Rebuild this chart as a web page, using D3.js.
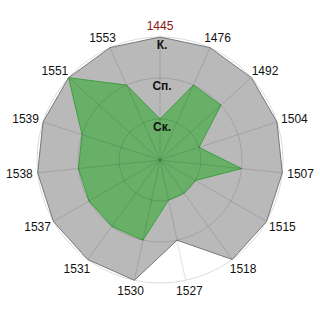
<!DOCTYPE html>
<html>
<head>
<meta charset="utf-8">
<script src="https://cdn.jsdelivr.net/npm/d3@7"></script>
<style>
html,body{margin:0;padding:0;background:#fff;}
svg{display:block;}
</style>
</head>
<body>
<svg id="c" width="320" height="320"></svg>
<script>
const categories = ["1445","1476","1492","1504","1507","1515","1518","1527","1530","1531","1537","1538","1539","1551","1553"];
const grayValues = [3,3,3,3,3,3,3,2,3,3,3,3,3,3,3];
const greenValues = [1,2,2,1,2,1,1,1,2,2,2,2,2,3,2];
const levelValues = [1,2,3];
const levelLabels = ["Ск.","Сп.","К."];

const svg = d3.select("#c");
const cx = 160, cy = 160, R = 123;
const g = svg.append("g").attr("transform", `translate(${cx},${cy})`);

const r = d3.scaleLinear().domain([0,3]).range([0,R]);
const ang = d3.scaleLinear().domain([0, categories.length]).range([0, 2*Math.PI]);

const line = d3.lineRadial()
  .angle((d,i)=>ang(i))
  .radius(d=>r(d))
  .curve(d3.curveLinearClosed);

// outer circle background
g.append("circle").attr("r", r(3)).attr("fill","none").attr("stroke","#dcdcdc").attr("stroke-width",1);

// gray series
g.append("path").attr("d", line(grayValues))
  .attr("fill","#b9b9b9").attr("stroke","#777").attr("stroke-width",1);

// green series
g.append("path").attr("d", line(greenValues))
  .attr("fill","#68b068").attr("stroke","#3f9f3f").attr("stroke-width",1);

// grid on top
const grid = g.append("g").attr("stroke","#000").attr("stroke-opacity",0.12).attr("fill","none");
levelValues.slice(0,2).forEach(v=>{
  grid.append("circle").attr("r", r(v));
});
categories.forEach((c,i)=>{
  const a = ang(i);
  grid.append("line").attr("x1",0).attr("y1",0)
    .attr("x2", r(3)*Math.sin(a)).attr("y2", -r(3)*Math.cos(a));
});

// category labels
const r0 = 128;
categories.forEach((c,i)=>{
  const a = ang(i);
  const t = svg.append("text")
    .attr("font-family","Liberation Sans, Arial, sans-serif")
    .attr("font-size",12)
    .attr("fill", i===0 ? "#8b1515" : "#111")
    .attr("text-anchor","middle")
    .text(c);
  const w = t.node().getComputedTextLength();
  const px = cx + r0*Math.sin(a) + (w/2)*Math.sin(a);
  const py = cy - r0*Math.cos(a) - 6*Math.cos(a);
  t.attr("x", px).attr("y", py + 4.3);
});

// level labels
levelValues.forEach((v,i)=>{
  svg.append("text")
    .attr("font-family","Liberation Sans, Arial, sans-serif")
    .attr("font-size",12)
    .attr("font-weight","bold")
    .attr("fill","#111")
    .attr("text-anchor","middle")
    .attr("x", cx+2)
    .attr("y", cy - r(v) + 12)
    .text(levelLabels[i]);
});
</script>
</body>
</html>
